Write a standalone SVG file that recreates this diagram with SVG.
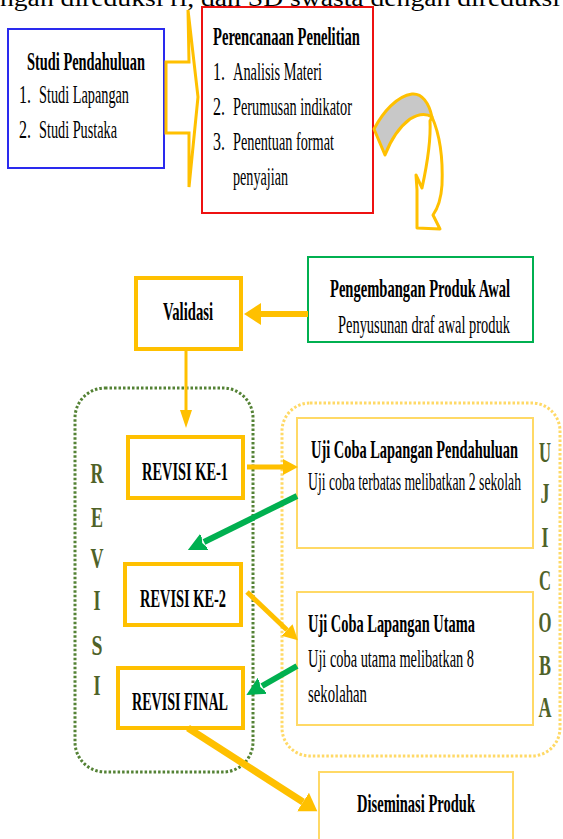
<svg xmlns="http://www.w3.org/2000/svg" width="563" height="839" viewBox="0 0 563 839">
<style>
text{font-family:"Liberation Serif","Times New Roman",serif;fill:#000;font-size:25px}
.b{font-weight:bold}
.lbl{font-weight:bold;font-size:26px}
.let{fill:#4F6228;font-size:30px;font-weight:bold}
.top{font-size:24px}
.ybox{fill:#fff;stroke:#FFC000;stroke-width:4}
.lybox{fill:#fff;stroke:#FFD966;stroke-width:2}
.ay{stroke:#FFC000;fill:none}
.ag{stroke:#00B050;fill:none}
</style>
<defs>
<marker id="my" viewBox="0 -12 20 24" markerWidth="20" markerHeight="24" refX="0" refY="0" orient="auto" markerUnits="userSpaceOnUse"><path d="M0,-8 L15,0 L0,8 z" fill="#FFC000"/></marker>
<marker id="myb" viewBox="0 -12 20 24" markerWidth="20" markerHeight="24" refX="0" refY="0" orient="auto" markerUnits="userSpaceOnUse"><path d="M0,-11 L17,0 L0,11 z" fill="#FFC000"/></marker>
<marker id="mys" viewBox="0 -12 20 24" markerWidth="20" markerHeight="24" refX="0" refY="0" orient="auto" markerUnits="userSpaceOnUse"><path d="M0,-6 L18,0 L0,6 z" fill="#FFC000"/></marker>
<marker id="mg" viewBox="0 -12 20 24" markerWidth="20" markerHeight="24" refX="0" refY="0" orient="auto" markerUnits="userSpaceOnUse"><path d="M-2,-10 L18,0 L-2,10 L2,0 z" fill="#00B050"/></marker>
</defs>

<text class="top" x="0" y="6" textLength="560" lengthAdjust="spacingAndGlyphs">ngan direduksi ri, dan SD swasta dengan direduksi</text>

<g id="studi-pendahuluan">
<rect x="8" y="29" width="156" height="139" fill="#fff" stroke="#2a2aee" stroke-width="2"/>
<text class="b" x="27" y="70" textLength="118" lengthAdjust="spacingAndGlyphs">Studi Pendahuluan</text>
<text x="19" y="103" textLength="12" lengthAdjust="spacingAndGlyphs">1.</text><text x="39" y="103" textLength="90" lengthAdjust="spacingAndGlyphs">Studi Lapangan</text>
<text x="19" y="138" textLength="12" lengthAdjust="spacingAndGlyphs">2.</text><text x="39" y="138" textLength="78" lengthAdjust="spacingAndGlyphs">Studi Pustaka</text>
</g>

<g id="notched-arrow">
<path d="M166,62 L189,62 L188,10 L198,97 L189,187 L189,133 L166,133 Z" fill="#fff" stroke="#FFC000" stroke-width="3" stroke-linejoin="miter"/>
</g>

<g id="perencanaan-penelitian">
<rect x="202" y="7" width="171" height="206" fill="#fff" stroke="#ee1111" stroke-width="2"/>
<text class="b" x="213" y="45" textLength="147" lengthAdjust="spacingAndGlyphs">Perencanaan Penelitian</text>
<text x="213" y="80" textLength="12" lengthAdjust="spacingAndGlyphs">1.</text><text x="233" y="80" textLength="89" lengthAdjust="spacingAndGlyphs">Analisis Materi</text>
<text x="213" y="115" textLength="12" lengthAdjust="spacingAndGlyphs">2.</text><text x="233" y="115" textLength="119" lengthAdjust="spacingAndGlyphs">Perumusan indikator</text>
<text x="213" y="150" textLength="12" lengthAdjust="spacingAndGlyphs">3.</text><text x="233" y="150" textLength="101" lengthAdjust="spacingAndGlyphs">Penentuan format</text>
<text x="233" y="185" textLength="55" lengthAdjust="spacingAndGlyphs">penyajian</text>
</g>

<g id="curved-arrow">
<path d="M374,129 C383,112 397,96 412,94 C422,93 429,103 432,117 C426,113 418,114 410,119 C398,128 390,142 385,155 Z" fill="#c8c8c8" stroke="#FFC000" stroke-width="3" stroke-linejoin="round"/>
<path d="M432,117 C440,135 443,160 442,185 C441,200 438,208 433,215 L440,229 L417,228 L417,190 L416,175 L422,188 C427,165 431,140 430,121 Z" fill="#fff" stroke="#FFC000" stroke-width="3" stroke-linejoin="round"/>
</g>

<g id="pengembangan-produk-awal">
<rect x="308" y="257" width="225" height="85" fill="#fff" stroke="#00B050" stroke-width="2"/>
<text class="b" x="330" y="297" textLength="180" lengthAdjust="spacingAndGlyphs">Pengembangan Produk Awal</text>
<text x="338" y="333" textLength="172" lengthAdjust="spacingAndGlyphs">Penyusunan draf awal produk</text>
</g>

<g id="validasi">
<rect class="ybox" x="136" y="278" width="105" height="71"/>
<text class="b" x="163" y="320" textLength="50" lengthAdjust="spacingAndGlyphs">Validasi</text>
</g>

<g id="revisi-group">
<rect x="75" y="388" width="178" height="384" rx="30" ry="30" fill="none" stroke="#548235" stroke-width="3" stroke-dasharray="2.5 2"/>
<text class="let" x="97" y="483" text-anchor="middle" textLength="13" lengthAdjust="spacingAndGlyphs">R</text>
<text class="let" x="97" y="527" text-anchor="middle" textLength="12" lengthAdjust="spacingAndGlyphs">E</text>
<text class="let" x="97" y="568" text-anchor="middle" textLength="13" lengthAdjust="spacingAndGlyphs">V</text>
<text class="let" x="97" y="610" text-anchor="middle" textLength="7" lengthAdjust="spacingAndGlyphs">I</text>
<text class="let" x="97" y="655" text-anchor="middle" textLength="11" lengthAdjust="spacingAndGlyphs">S</text>
<text class="let" x="97" y="695" text-anchor="middle" textLength="7" lengthAdjust="spacingAndGlyphs">I</text>
</g>

<g id="ujicoba-group">
<rect x="282" y="403" width="278" height="353" rx="28" ry="28" fill="none" stroke="#FFD966" stroke-width="3" stroke-dasharray="2.5 2"/>
<text class="let" x="545" y="462" text-anchor="middle" textLength="12" lengthAdjust="spacingAndGlyphs">U</text>
<text class="let" x="545" y="503" text-anchor="middle" textLength="9" lengthAdjust="spacingAndGlyphs">J</text>
<text class="let" x="545" y="547" text-anchor="middle" textLength="7" lengthAdjust="spacingAndGlyphs">I</text>
<text class="let" x="545" y="590" text-anchor="middle" textLength="12" lengthAdjust="spacingAndGlyphs">C</text>
<text class="let" x="545" y="632" text-anchor="middle" textLength="13" lengthAdjust="spacingAndGlyphs">O</text>
<text class="let" x="545" y="675" text-anchor="middle" textLength="12" lengthAdjust="spacingAndGlyphs">B</text>
<text class="let" x="545" y="717" text-anchor="middle" textLength="13" lengthAdjust="spacingAndGlyphs">A</text>
</g>

<g id="revisi-ke-1">
<rect class="ybox" x="128" y="437" width="115" height="61"/>
<text class="lbl" x="142" y="480" textLength="86" lengthAdjust="spacingAndGlyphs">REVISI KE-1</text>
</g>

<g id="revisi-ke-2">
<rect class="ybox" x="125" y="564" width="116" height="61"/>
<text class="lbl" x="140" y="607" textLength="86" lengthAdjust="spacingAndGlyphs">REVISI KE-2</text>
</g>

<g id="revisi-final">
<rect class="ybox" x="118" y="668" width="125" height="60"/>
<text class="lbl" x="132" y="710" textLength="96" lengthAdjust="spacingAndGlyphs">REVISI FINAL</text>
</g>

<g id="uji-coba-pendahuluan">
<rect class="lybox" x="297" y="418" width="236" height="130"/>
<text class="b" x="311" y="458" textLength="207" lengthAdjust="spacingAndGlyphs">Uji Coba Lapangan Pendahuluan</text>
<text x="308" y="490" textLength="213" lengthAdjust="spacingAndGlyphs">Uji coba terbatas melibatkan 2 sekolah</text>
</g>

<g id="uji-coba-utama">
<rect class="lybox" x="297" y="592" width="236" height="133"/>
<text class="b" x="308" y="632" textLength="167" lengthAdjust="spacingAndGlyphs">Uji Coba Lapangan Utama</text>
<text x="308" y="667" textLength="166" lengthAdjust="spacingAndGlyphs">Uji coba utama melibatkan 8</text>
<text x="308" y="702" textLength="59" lengthAdjust="spacingAndGlyphs">sekolahan</text>
</g>

<g id="diseminasi-produk">
<rect class="lybox" x="319" y="772" width="194" height="70"/>
<text class="b" x="357" y="812" textLength="118" lengthAdjust="spacingAndGlyphs">Diseminasi Produk</text>
</g>

<g id="connectors">
<line class="ay" x1="308" y1="314" x2="261" y2="314" stroke-width="6" marker-end="url(#myb)"/>
<line class="ay" x1="186" y1="349" x2="186" y2="410" stroke-width="3" marker-end="url(#mys)"/>
<line class="ay" x1="247" y1="467" x2="283" y2="467" stroke-width="5" marker-end="url(#my)"/>
<line class="ag" x1="297" y1="496" x2="204" y2="542" stroke-width="6" marker-end="url(#mg)"/>
<line class="ay" x1="247" y1="592" x2="287" y2="630" stroke-width="5" marker-end="url(#my)"/>
<line class="ag" x1="297" y1="666" x2="262" y2="686" stroke-width="6" marker-end="url(#mg)"/>
<line class="ay" x1="188" y1="728" x2="303" y2="802" stroke-width="7" marker-end="url(#myb)"/>
</g>
</svg>
